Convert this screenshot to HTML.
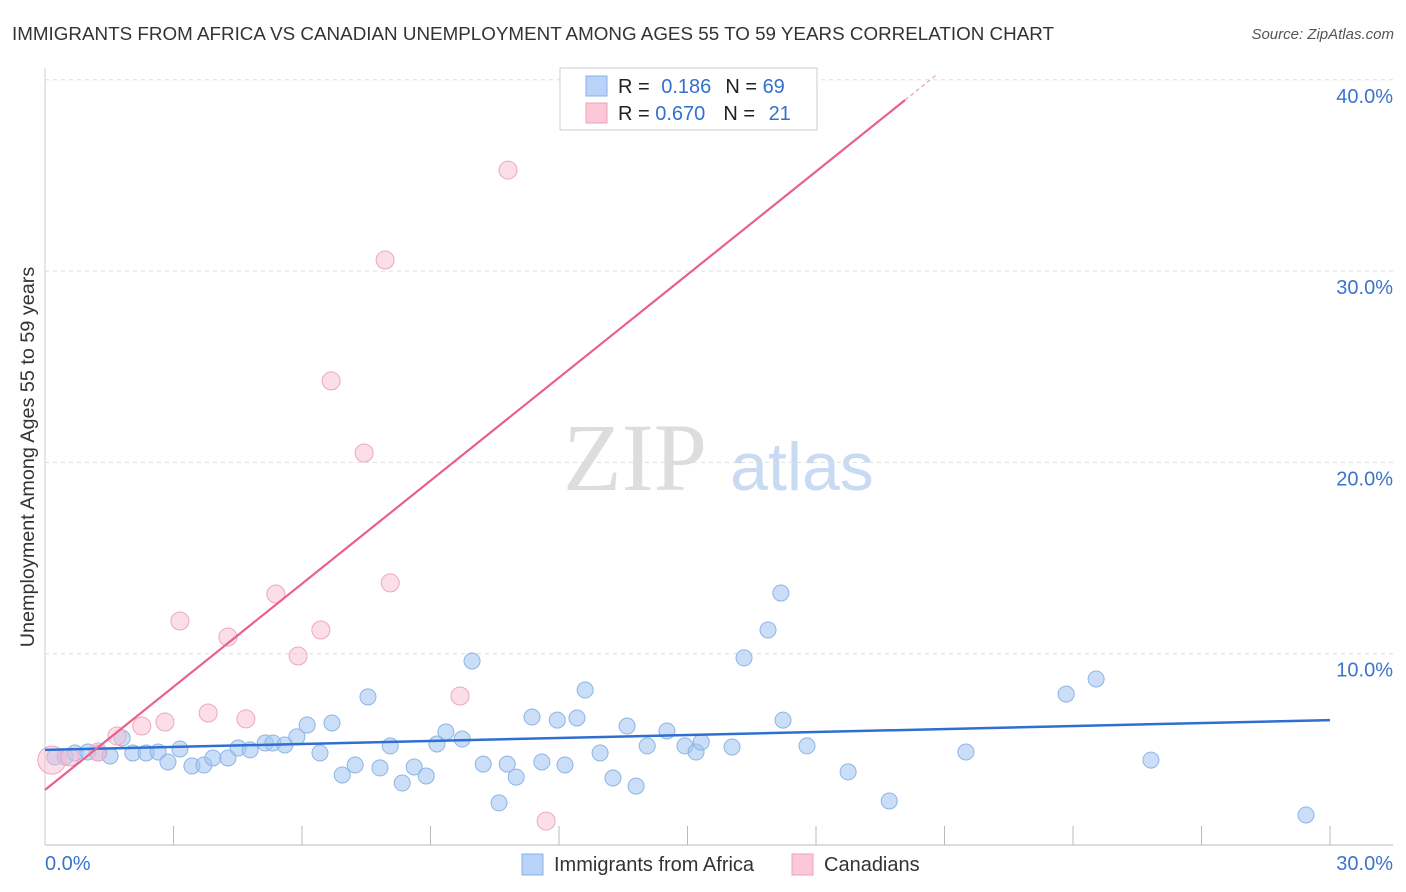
<!DOCTYPE html>
<html><head><meta charset="utf-8"><style>
body{margin:0;background:#fff;font-family:"Liberation Sans",sans-serif;}
#wrap{position:relative;width:1406px;height:892px;overflow:hidden;}
</style></head><body>
<div id="wrap">
<svg id="svg" width="1406" height="892" xmlns="http://www.w3.org/2000/svg">
<text x="12" y="40" font-size="18.8" fill="#333" textLength="1042">IMMIGRANTS FROM AFRICA VS CANADIAN UNEMPLOYMENT AMONG AGES 55 TO 59 YEARS CORRELATION CHART</text>
<text x="1394" y="39" font-size="15" fill="#555" font-style="italic" text-anchor="end">Source: ZipAtlas.com</text>
<text x="635" y="490" font-size="96" fill="#ddd" font-family="Liberation Serif,serif" text-anchor="middle">ZIP</text>
<text x="802" y="490" font-size="68" fill="#c9daf3" text-anchor="middle">atlas</text>
<text transform="translate(34,457) rotate(-90)" font-size="19.8" fill="#333" text-anchor="middle">Unemployment Among Ages 55 to 59 years</text>
<g id="grid"></g><g id="marks"></g>
<g>
<rect x="560" y="68" width="257" height="62" fill="#fff" stroke="#ccc"/>
<rect x="586" y="76" width="21" height="20" fill="#b8d3f7" stroke="#8ab0e8"/>
<rect x="586" y="103" width="21" height="20" fill="#fac8d6" stroke="#f0a0b8"/>
<text x="618" y="93" font-size="20" fill="#222">R = <tspan fill="#3370cc" dx="6">0.186</tspan><tspan dx="14" fill="#222">N = </tspan><tspan fill="#3370cc">69</tspan></text>
<text x="618" y="120" font-size="20" fill="#222">R = <tspan fill="#3370cc">0.670</tspan><tspan dx="18" fill="#222">N = </tspan><tspan fill="#3370cc" dx="8">21</tspan></text>
</g>
<g>
<rect x="522" y="854" width="21" height="21" fill="#b8d3f7" stroke="#8ab0e8"/>
<text x="554" y="871" font-size="20" fill="#333">Immigrants from Africa</text>
<rect x="792" y="854" width="21" height="21" fill="#fac8d6" stroke="#f0a0b8"/>
<text x="824" y="871" font-size="20" fill="#333">Canadians</text>
</g>
</svg>
</div>
<script>
const blueX=[.23,.47,.70,1.00,1.24,1.52,1.80,2.05,2.36,2.64,2.87,3.15,3.43,3.71,3.92,4.27,4.51,4.79,5.14,5.32,5.60,5.88,6.12,6.42,6.70,6.94,7.24,7.54,7.82,8.06,8.34,8.62,8.90,9.15,9.36,9.74,9.97,10.23,10.60,10.79,11.00,11.37,11.60,11.96,12.14,12.42,12.61,12.96,13.26,13.59,13.80,14.06,14.52,14.94,15.20,15.32,16.04,16.32,16.88,17.18,17.23,17.79,18.75,19.71,21.50,23.84,24.54,25.82,29.44];
const blueY=[4.60,4.60,4.81,4.86,4.81,4.65,5.59,4.81,4.81,4.86,4.34,5.02,4.13,4.18,4.55,4.55,5.07,4.97,5.33,5.33,5.23,5.65,6.27,4.81,6.38,3.66,4.18,7.74,4.03,5.18,3.24,4.08,3.61,5.28,5.91,5.54,9.62,4.23,2.20,4.23,3.55,6.69,4.34,6.53,4.18,6.64,8.10,4.81,3.50,6.22,3.08,5.18,5.96,5.18,4.86,5.38,5.12,9.78,11.24,13.17,6.53,5.18,3.82,2.30,4.86,7.89,8.68,4.44,1.57];
const pinkX=[.16,.58,1.24,1.68,2.26,2.80,3.15,3.81,4.27,4.69,5.39,5.91,6.44,6.68,7.45,7.94,8.06,9.69,10.81,11.70,15.92];
const pinkY=[4.44,4.60,4.86,5.70,6.22,6.43,11.71,6.90,10.87,6.59,13.12,9.88,11.24,24.26,20.49,30.58,13.70,7.79,35.28,1.25,39.62];
const pinkSize=[14,9,9,9,9,9,9,9,9,9,9,9,9,9,9,9,9,9,9,9,9];
const blueLine=[4.97,6.53];
const pinkLine=[2.88,1.796];
const yTicks=[10,20,30,40];
const yTickLabels=["10.0%","20.0%","30.0%","40.0%"];
const xTicks=[3,6,9,12,15,18,21,24,27,30];
const NS="http://www.w3.org/2000/svg";
const X=v=>45+v/30*1285, Y=v=>845-v*19.13;
function mk(t,a,p){const e=document.createElementNS(NS,t);for(const k in a)e.setAttribute(k,a[k]);p.appendChild(e);return e;}
const grid=document.getElementById('grid'),marks=document.getElementById('marks');
yTicks.forEach((t,i)=>{
 const l=mk('line',{x1:45,x2:1393,y1:Y(t),y2:Y(t),stroke:'#ddd','stroke-dasharray':'4,4'},grid);
 
 
 const tx=mk('text',{x:1393,y:Y(t)+23,'font-size':20,fill:'#3b73cf','text-anchor':'end'},grid);
 tx.textContent=yTickLabels[i];
 
 
});
const ax=mk('line',{x1:45,x2:1393,y1:845,y2:845,stroke:'#bbb'},grid);


const ay=mk('line',{x1:45,x2:45,y1:68,y2:845,stroke:'#ccc'},grid);


xTicks.forEach(t=>{const l=mk('line',{x1:X(t),x2:X(t),y1:826,y2:845,stroke:'#bbb'},grid);
 
 });
const t0=mk('text',{x:45,y:870,'font-size':20,fill:'#3b73cf'},grid);t0.textContent='0.0%';


const t1=mk('text',{x:1393,y:870,'font-size':20,fill:'#3b73cf','text-anchor':'end'},grid);t1.textContent='30.0%';


blueX.forEach((x,i)=>{const c=mk('circle',{cx:X(x),cy:Y(blueY[i]),r:8,fill:'rgba(160,195,240,0.55)',stroke:'#8db4e8','stroke-width':1},marks);
 
 });
pinkX.forEach((x,i)=>{const c=mk('circle',{cx:X(x),cy:Y(pinkY[i]),r:pinkSize[i],fill:'rgba(248,190,210,0.5)',stroke:'#f0a6bf','stroke-width':1},marks);
 
 });
const bl=mk('line',{x1:X(0),y1:Y(blueLine[0]),x2:X(30),y2:Y(blueLine[1]),stroke:'#2f6fd0','stroke-width':2.5},marks);


const xe=20.08;
const pl=mk('line',{x1:X(0),y1:Y(pinkLine[0]),x2:X(xe),y2:Y(pinkLine[0]+pinkLine[1]*xe),stroke:'#e8608c','stroke-width':2.2},marks);


const pd=mk('line',{x1:X(xe),y1:Y(pinkLine[0]+pinkLine[1]*xe),x2:X(20.8),y2:Y(pinkLine[0]+pinkLine[1]*20.8),stroke:'#f0a0b8','stroke-width':1.2,'stroke-dasharray':'4,3'},marks);


</script>
</body></html>
